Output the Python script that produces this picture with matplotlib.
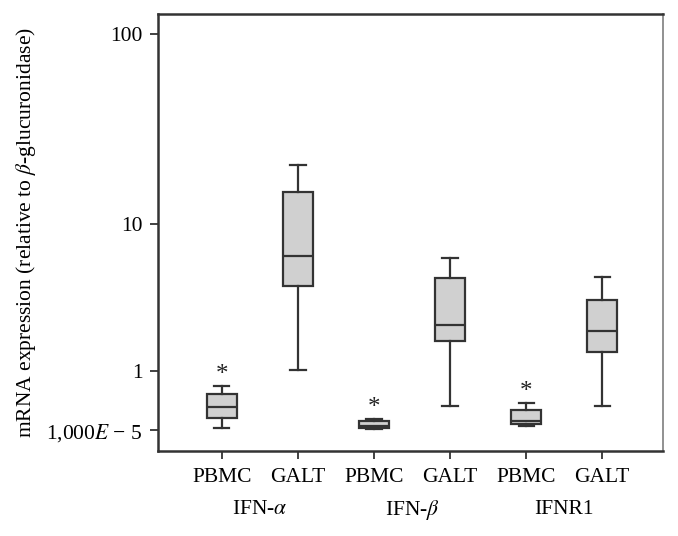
import numpy as np
import matplotlib
matplotlib.use("Agg")
import matplotlib.pyplot as plt
from matplotlib.transforms import blended_transform_factory

# ---- data ----
tissues = ["PBMC", "GALT", "PBMC", "GALT", "PBMC", "GALT"]
groups = ["IFN-$\\alpha$", "IFN-$\\beta$", "IFNR1"]
whislo = [0.025, 1.02, 0.010, 0.32, 0.052, 0.33]
q1     = [0.146, 4.37, 0.028, 1.82, 0.074, 1.48]
med    = [0.303, 6.57, 0.052, 2.41, 0.116, 2.19]
q3     = [0.524, 14.96, 0.116, 4.92, 0.269, 3.58]
whishi = [0.665, 21.1, 0.135, 6.45, 0.372, 4.94]
significant = [True, False, True, False, True, False]
ytick_vals = [0.00001, 1, 10, 100]
ytick_labels = ["1,000$E$ \u2212 5", "1", "10", "100"]

plt.rcParams['font.family'] = ['Liberation Serif', 'DejaVu Serif']
plt.rcParams['mathtext.fontset'] = 'stix'

fig = plt.figure(figsize=(6.78, 5.36), dpi=100)
ax = fig.add_axes([0.233, 0.1586, 0.745, 0.8154])

fwd = lambda x: np.log10(np.clip(np.asarray(x, dtype=float) + 1.0, 1e-12, None))
inv = lambda y: 10.0 ** np.asarray(y, dtype=float) - 1.0
ax.set_yscale('function', functions=(fwd, inv))

stats = []
for i in range(len(tissues)):
    stats.append(dict(med=med[i], q1=q1[i], q3=q3[i], whislo=whislo[i],
                      whishi=whishi[i], fliers=[], label=tissues[i]))

edge = '#333333'
positions = np.arange(1, len(tissues) + 1)
ax.bxp(stats, positions=positions, widths=0.4, capwidths=0.2,
       patch_artist=True, showfliers=False,
       boxprops=dict(facecolor='#d0d0d0', edgecolor=edge, linewidth=1.6),
       medianprops=dict(color=edge, linewidth=1.6),
       whiskerprops=dict(color=edge, linewidth=1.6),
       capprops=dict(color=edge, linewidth=1.6))

for i, s in enumerate(significant):
    if s:
        ax.annotate('*', xy=(positions[i], whishi[i]), xytext=(0, 0),
                    textcoords='offset points', ha='center', va='bottom',
                    fontsize=18, color='#222222')

ax.set_xlim(0.16, 6.8)
ax.set_ylim(-0.217, 127)
ax.set_yticks(ytick_vals)
ax.set_yticklabels(ytick_labels)
ax.yaxis.set_minor_locator(matplotlib.ticker.NullLocator())
ax.set_xticks(positions)
ax.set_xticklabels(tissues)
ax.tick_params(axis='both', labelsize=15.5, length=6, width=1.3, color=edge,
               direction='out', pad=5)
ax.tick_params(axis='x', pad=6)

trans = blended_transform_factory(ax.transData, ax.transAxes)
for g, name in enumerate(groups):
    ax.text(2 * g + 1.5, -0.135, name, transform=trans, ha='center',
            va='center', fontsize=15.5)

ax.set_ylabel("mRNA expression (relative to $\\beta$-glucuronidase)",
              fontsize=15.5, labelpad=6)

for side in ['left', 'top', 'bottom']:
    ax.spines[side].set_color(edge)
    ax.spines[side].set_linewidth(1.8)
ax.spines['right'].set_color('#888888')
ax.spines['right'].set_linewidth(1.3)

fig.savefig('out.png', dpi=100)
